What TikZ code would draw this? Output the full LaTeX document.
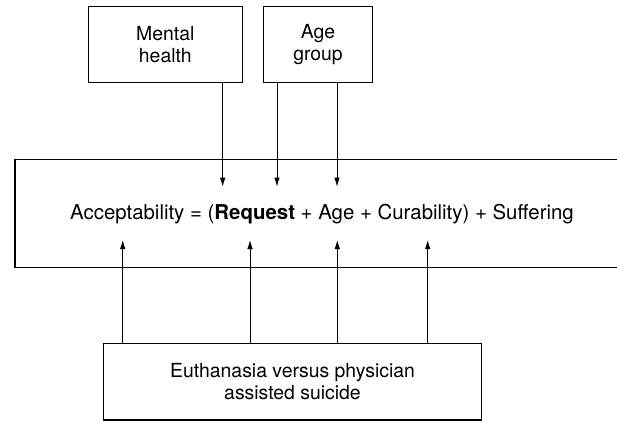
\documentclass[tikz,border=0pt]{standalone}
\usepackage{fontspec}
\setmainfont{TeX Gyre Heros}
\usetikzlibrary{arrows.meta}
\begin{document}
\begin{tikzpicture}[x=1pt,y=1pt,
  box/.style={draw,line width=1.2pt,inner sep=0pt,align=center,font=\fontsize{19.4}{22}\selectfont},
  arr/.style={line width=0.9pt,-{Latex[length=9pt,width=5.5pt]}}]
\useasboundingbox (0,0) rectangle (617,423);
\clip (0,0) rectangle (617,423);
\node[box,minimum width=154,minimum height=76] (mh) at (165.3,378.3) {Mental\\health};
\node[box,minimum width=109.4,minimum height=76] (ag) at (318,378.3) {Age\\group};
\node[box,minimum width=640,minimum height=108.4] (main) at (335,209.5) {};
\node[anchor=base,inner sep=0pt,font=\fontsize{20.4}{24}\selectfont] (eq) at (322,203) {Acceptability = (\textbf{Request} + Age + Curability) + Suffering};
\node[box,minimum width=378.4,minimum height=76.5] (eu) at (292.5,41.3) {Euthanasia versus physician\\assisted suicide};
\coordinate (t1) at (222.7,236.3);
\coordinate (t2) at (277,236.3);
\coordinate (t3) at (337,236.3);
\coordinate (b1) at (122.7,183);
\coordinate (b2) at (250,183);
\coordinate (b3) at (337.3,183);
\coordinate (b4) at (427.7,183);
\draw[arr] (mh.south -| t1) -- (t1);
\draw[arr] (ag.south -| t2) -- (t2);
\draw[arr] (ag.south -| t3) -- (t3);
\draw[arr] (eu.north -| b1) -- (b1);
\draw[arr] (eu.north -| b2) -- (b2);
\draw[arr] (eu.north -| b3) -- (b3);
\draw[arr] (eu.north -| b4) -- (b4);
\end{tikzpicture}
\end{document}
